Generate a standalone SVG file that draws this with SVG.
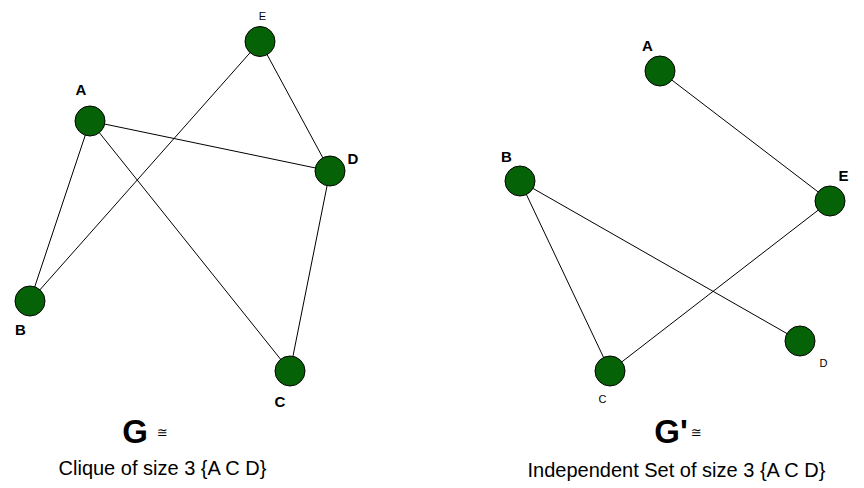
<svg xmlns="http://www.w3.org/2000/svg" width="864" height="488" viewBox="0 0 864 488">
<style>
.n{fill:#066206;stroke:#000;stroke-width:1}
.e{stroke:#000;stroke-width:1;fill:none}
.lb{font-family:"Liberation Sans",Arial,sans-serif;font-weight:bold;font-size:15px;fill:#000;text-anchor:middle}
.ls{font-family:"Liberation Sans",Arial,sans-serif;font-size:11px;fill:#000;text-anchor:middle}
.big{font-family:"Liberation Sans",Arial,sans-serif;font-weight:bold;font-size:33px;fill:#000;text-anchor:middle}
.cong{font-family:"DejaVu Sans",sans-serif;font-size:13px;fill:#000;text-anchor:middle}
.cap{font-family:"Liberation Sans",Arial,sans-serif;font-size:20px;fill:#000;text-anchor:middle}
</style>
<rect width="864" height="488" fill="#fff"/>
<g id="connectors">
<line class="e" x1="90" y1="121" x2="330" y2="171"/>
<line class="e" x1="90" y1="121" x2="30" y2="301"/>
<line class="e" x1="90" y1="121" x2="290" y2="371"/>
<line class="e" x1="260" y1="41.5" x2="30" y2="301"/>
<line class="e" x1="260" y1="41.5" x2="330" y2="171"/>
<line class="e" x1="330" y1="171" x2="290" y2="371"/>
<line class="e" x1="660" y1="71" x2="830" y2="201"/>
<line class="e" x1="520" y1="181" x2="610" y2="371"/>
<line class="e" x1="520" y1="181" x2="800" y2="341"/>
<line class="e" x1="830" y1="201" x2="610" y2="371"/>
</g>
<g id="G-A"><circle class="n" cx="90" cy="121" r="15"/><text class="lb" x="81" y="95">A</text></g>
<g id="G-E"><circle class="n" cx="260" cy="41.5" r="15"/><text class="ls" x="262.5" y="20">E</text></g>
<g id="G-D"><circle class="n" cx="330" cy="171" r="15"/><text class="lb" x="353" y="164">D</text></g>
<g id="G-B"><circle class="n" cx="30" cy="301" r="15"/><text class="lb" x="20.5" y="335">B</text></g>
<g id="G-C"><circle class="n" cx="290" cy="371" r="15"/><text class="lb" x="280" y="407">C</text></g>
<g id="H-A"><circle class="n" cx="660" cy="71" r="15"/><text class="lb" x="647.5" y="51">A</text></g>
<g id="H-E"><circle class="n" cx="830" cy="201" r="15"/><text class="lb" x="843.5" y="181">E</text></g>
<g id="H-B"><circle class="n" cx="520" cy="181" r="15"/><text class="lb" x="506.5" y="162">B</text></g>
<g id="H-C"><circle class="n" cx="610" cy="371" r="15"/><text class="ls" x="602.5" y="403">C</text></g>
<g id="H-D"><circle class="n" cx="800" cy="341" r="15"/><text class="ls" x="823.5" y="367">D</text></g>
<g id="title-G"><text class="big" x="135" y="443">G</text><text class="cong" x="162.5" y="437">≅</text>
<text class="cap" x="162.5" y="475">Clique of size 3 {A C D}</text></g>
<g id="title-H"><text class="big" x="671" y="443">G'</text><text class="cong" x="696.5" y="437">≅</text>
<text class="cap" x="676.5" y="477">Independent Set of size 3 {A C D}</text></g>
</svg>
